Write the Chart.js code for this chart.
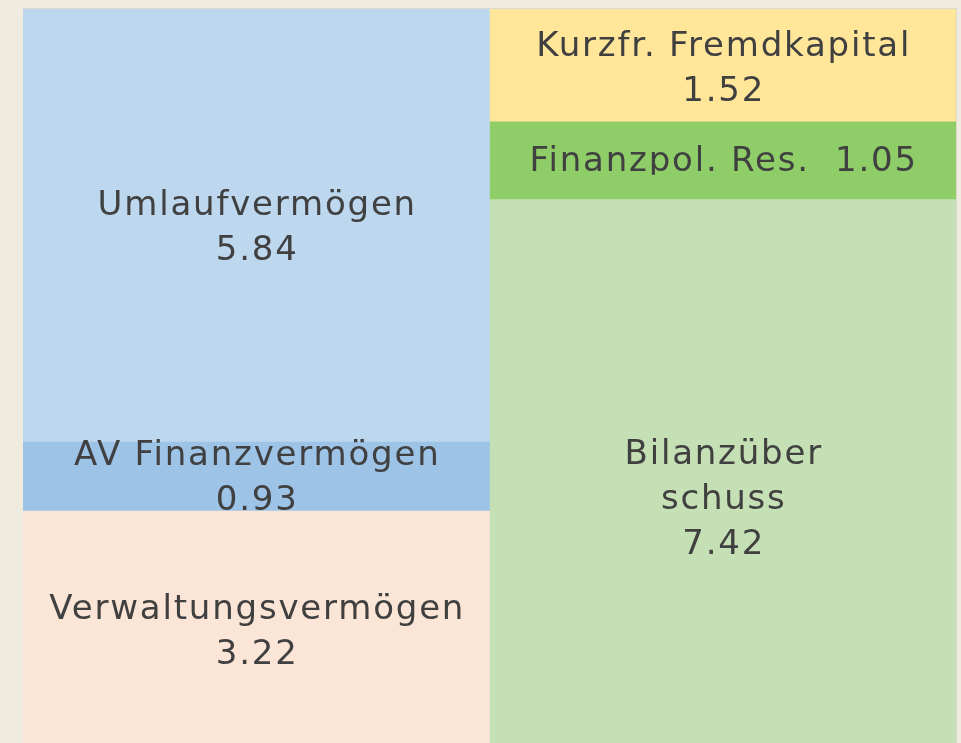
<!DOCTYPE html>
<html>
<head>
<meta charset="utf-8">
<script src="https://cdn.jsdelivr.net/npm/chart.js@4.4.1/dist/chart.umd.min.js"></script>
<style>
  html, body { margin: 0; padding: 0; background: #efebdf; overflow: hidden; }
  #wrap { position: relative; width: 961px; height: 760px; }
</style>
</head>
<body>
<div id="wrap"><canvas id="bilanz"></canvas></div>
<script>
// Bilanz: Aktiva (links) und Passiva (rechts), je von unten nach oben
const sides = ["Aktiva", "Passiva"];

const aktivaNames = ["Verwaltungsvermögen", "AV Finanzvermögen", "Umlaufvermögen"];
const aktivaValues = [3.22, 0.93, 5.84];

const passivaNames = ["Bilanzüber\nschuss", "Finanzpol. Res.  ", "Kurzfr. Fremdkapital"];
const passivaValues = [7.42, 1.05, 1.52];

const aktivaColors = ["#fbe5d6", "#9dc3e6", "#bdd7ee"];
const passivaColors = ["#c5e0b4", "#8fcd69", "#ffe699"];
// label y-offset per segment (px), only styling
const aktivaShift = [2, 2, 3];
const passivaShift = [25, 1, 4];

let datasets = [];
for (let i = 0; i < aktivaValues.length; i++) {
    datasets.push({
        label: aktivaNames[i],
        data: [aktivaValues[i], null],
        backgroundColor: aktivaColors[i],
        stack: "s",
        inline: false,
        shift: aktivaShift[i]
    });
}
for (let i = 0; i < passivaValues.length; i++) {
    datasets.push({
        label: passivaNames[i],
        data: [null, passivaValues[i]],
        backgroundColor: passivaColors[i],
        stack: "s",
        inline: i === 1,
        shift: passivaShift[i]
    });
}

const total = aktivaValues.reduce((a, b) => a + b, 0);

const labelPlugin = {
    id: "segLabels",
    afterDatasetsDraw(chart) {
        const ctx = chart.ctx;
        const lh = 45;
        chart.data.datasets.forEach((ds, di) => {
            const meta = chart.getDatasetMeta(di);
            meta.data.forEach((bar, idx) => {
                const v = ds.data[idx];
                if (v === null) return;
                let lines;
                if (ds.inline) {
                    lines = [ds.label + v.toFixed(2)];
                } else {
                    lines = ds.label.split("\n").concat([v.toFixed(2)]);
                }
                const cy = (bar.y + bar.base) / 2 + ds.shift;
                const y0 = cy - (lines.length - 1) * lh / 2;
                ctx.save();
                ctx.font = "34px 'DejaVu Sans'";
                ctx.letterSpacing = "1.8px";
                ctx.fillStyle = "#404040";
                ctx.textAlign = "center";
                ctx.textBaseline = "middle";
                if (ds.inline) {
                    // the single-line label is cut just under its baseline
                    ctx.beginPath();
                    ctx.rect(bar.x - bar.width / 2, bar.y, bar.width, cy + 13 - bar.y);
                    ctx.clip();
                }
                lines.forEach((t, k) => {
                    ctx.fillText(t, bar.x + 1, y0 + k * lh);
                });
                ctx.restore();
            });
        });
    }
};

const edgePlugin = {
    id: "edge",
    beforeDraw(chart) {
        const a = chart.chartArea;
        const ctx = chart.ctx;
        ctx.save();
        ctx.fillStyle = "#dcd9d0";
        ctx.fillRect(a.left, a.top - 1, a.right - a.left + 1, 1);
        ctx.fillRect(a.right, a.top - 1, 1, a.bottom - a.top + 1);
        ctx.restore();
    }
};

new Chart(document.getElementById("bilanz"), {
    type: "bar",
    data: { labels: sides, datasets: datasets },
    options: {
        responsive: true,
        maintainAspectRatio: false,
        animation: false,
        layout: { padding: { left: 23, right: 5, top: 9, bottom: 10 } },
        datasets: {
            bar: { barPercentage: 1, categoryPercentage: 1, borderWidth: 0 }
        },
        plugins: {
            legend: { display: false },
            tooltip: { enabled: false }
        },
        scales: {
            x: { stacked: true, display: false },
            y: { stacked: true, display: false, min: 0, max: total }
        }
    },
    plugins: [edgePlugin, labelPlugin]
});
</script>
</body>
</html>
